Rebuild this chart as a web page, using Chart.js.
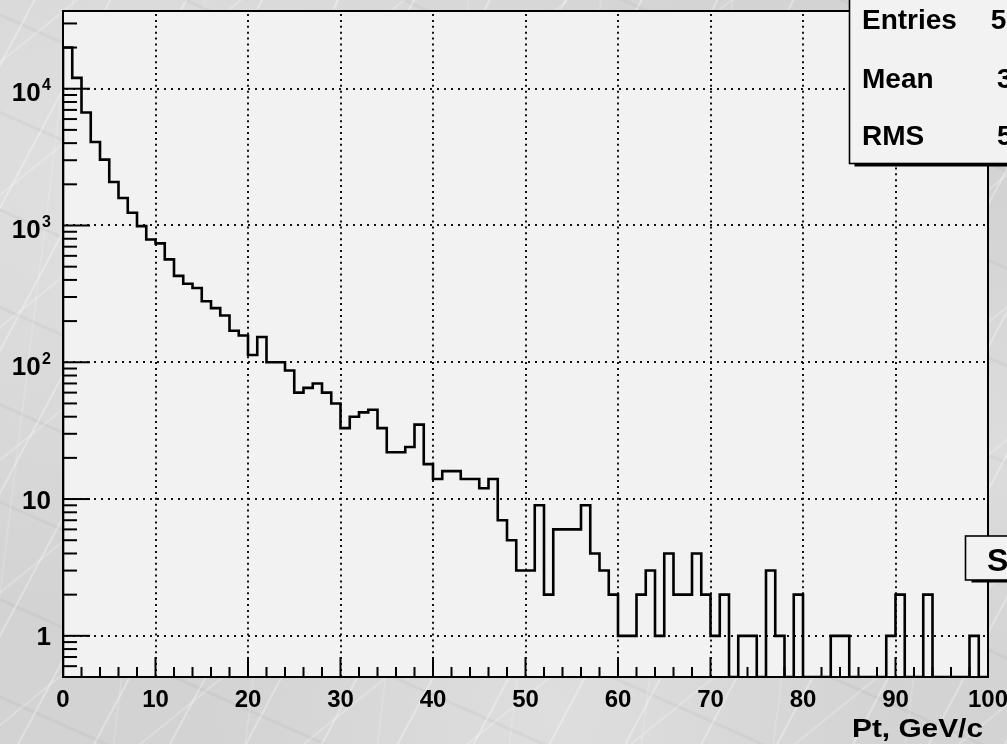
<!DOCTYPE html>
<html>
<head>
<meta charset="utf-8">
<script src="https://cdn.jsdelivr.net/npm/chart.js@4/dist/chart.umd.min.js"></script>
<style>
  html, body { margin: 0; padding: 0; }
  body {
    width: 1007px; height: 744px; overflow: hidden;
    background-color: #d3d3d3;
    background-image:
      repeating-linear-gradient(118deg, rgba(255,255,255,0) 0px, rgba(255,255,255,0) 29px, rgba(255,255,255,0.30) 30px, rgba(255,255,255,0.30) 31px, rgba(255,255,255,0) 32px, rgba(255,255,255,0) 67px),
      repeating-linear-gradient(141deg, rgba(255,255,255,0) 0px, rgba(255,255,255,0) 47px, rgba(255,255,255,0.22) 48px, rgba(255,255,255,0.22) 49px, rgba(255,255,255,0) 50px, rgba(255,255,255,0) 103px),
      repeating-linear-gradient(97deg, rgba(255,255,255,0) 0px, rgba(255,255,255,0) 71px, rgba(255,255,255,0.18) 72px, rgba(255,255,255,0) 74px, rgba(255,255,255,0) 131px),
      repeating-linear-gradient(24deg, rgba(110,110,110,0) 0px, rgba(110,110,110,0) 41px, rgba(110,110,110,0.07) 42px, rgba(110,110,110,0.07) 44px, rgba(110,110,110,0) 45px, rgba(110,110,110,0) 89px),
      radial-gradient(ellipse at 15% 25%, rgba(255,255,255,0.30), rgba(255,255,255,0) 55%),
      radial-gradient(ellipse at 55% 95%, rgba(255,255,255,0.25), rgba(255,255,255,0) 45%),
      radial-gradient(ellipse at 95% 60%, rgba(255,255,255,0.22), rgba(255,255,255,0) 40%);
  }
  canvas { display: block; }
</style>
</head>
<body>
<canvas id="c" width="1007" height="744"></canvas>
<script>
// Pt spectrum, 1 GeV/c bins from 0 to 100
const xMin = 0;
const xMax = 100;
const binWidth = 1;
const counts = [
  20000, 12000, 6700, 4080, 3030, 2080, 1590, 1240, 990, 790,
  740, 565, 428, 375, 349, 279, 249, 220, 170, 157,
  113, 153, 100, 100, 87, 60, 65, 70, 60, 50,
  33, 40, 43, 45, 33, 22, 22, 24, 35, 18,
  14, 16, 16, 14, 14, 12, 14, 7, 5, 3,
  3, 9, 2, 6, 6, 6, 9, 4, 3, 2,
  1, 1, 2, 3, 1, 4, 2, 2, 4, 2,
  1, 2, 0, 1, 1, 0, 3, 1, 0, 2,
  0, 0, 0, 1, 1, 0, 0, 0, 0, 1,
  2, 0, 0, 2, 0, 0, 0, 0, 1, 0
];

// axis ranges and labels
const yMin = 0.5;
const yMax = 37000;
const xTickValues = [0, 10, 20, 30, 40, 50, 60, 70, 80, 90, 100];
const xTickLabels = ['0', '10', '20', '30', '40', '50', '60', '70', '80', '90', '100'];
const yTickValues = [1, 10, 100, 1000, 10000];
const yTickBases = ['1', '10', '10', '10', '10'];
const yTickExponents = ['', '', '2', '3', '4'];
const xTitle = 'Pt, GeV/c';
const statNames = ['Entries', 'Mean', 'RMS'];
const sideBoxText = 'S';

// statistics of the filled bins
const entries = counts.reduce((s, c) => s + c, 0);
const meanPt = counts.reduce((s, c, i) => s + c * (xMin + (i + 0.5) * binWidth), 0) / entries;
const rmsPt = Math.sqrt(counts.reduce((s, c, i) => {
  const d = xMin + (i + 0.5) * binWidth - meanPt;
  return s + c * d * d;
}, 0) / entries);
const statValues = [String(entries), meanPt.toPrecision(4), rmsPt.toPrecision(4)];

// histogram outline: empty bins drop to the bottom of the frame
const points = [{ x: xMin, y: yMin }];
counts.forEach((c, i) => points.push({ x: xMin + i * binWidth, y: c > 0 ? c : yMin }));
points.push({ x: xMax, y: counts[counts.length - 1] > 0 ? counts[counts.length - 1] : yMin });
points.push({ x: xMax, y: yMin });

const FONT = '"Liberation Sans", Arial, Helvetica, sans-serif';

function seg(ctx, x1, y1, x2, y2) {
  ctx.beginPath(); ctx.moveTo(x1, y1); ctx.lineTo(x2, y2); ctx.stroke();
}

function stretchedText(ctx, text, x, y, size, align, width) {
  ctx.save();
  ctx.font = 'bold ' + size + 'px ' + FONT;
  const w = ctx.measureText(text).width;
  const sx = width ? width / w : 1;
  ctx.translate(x, y);
  ctx.scale(sx, 1);
  ctx.textAlign = align;
  ctx.textBaseline = 'alphabetic';
  ctx.fillText(text, 0, 0);
  ctx.restore();
}

function paveBox(ctx, x1, y1, x2, y2, shadowDx, shadowDy) {
  ctx.save();
  ctx.fillStyle = '#000';
  ctx.fillRect(x1 + shadowDx, y2, x2 - x1, shadowDy);
  ctx.fillRect(x2, y1 + shadowDy, shadowDx, y2 - y1);
  ctx.fillStyle = '#f2f2f2';
  ctx.fillRect(x1, y1, x2 - x1, y2 - y1);
  ctx.strokeStyle = '#000';
  ctx.lineWidth = 1.6;
  ctx.strokeRect(x1, y1, x2 - x1, y2 - y1);
  ctx.restore();
}

const rootPad = {
  id: 'rootPad',
  beforeDatasetsDraw(chart) {
    const { ctx, chartArea: a, scales: { x, y } } = chart;
    ctx.save();
    ctx.fillStyle = '#f2f2f2';
    ctx.fillRect(a.left, a.top, a.right - a.left, a.bottom - a.top);
    // dotted grid at the labelled ticks
    ctx.strokeStyle = '#111';
    ctx.lineWidth = 2;
    ctx.lineCap = 'butt';
    ctx.setLineDash([2, 3.9]);
    xTickValues.forEach(v => {
      if (v <= xMin || v >= xMax) return;
      const px = Math.round(x.getPixelForValue(v));
      seg(ctx, px, a.top + 3, px, a.bottom);
    });
    ctx.setLineDash([2, 5]);
    yTickValues.forEach(v => {
      const py = Math.round(y.getPixelForValue(v));
      seg(ctx, a.left + 3, py, a.right, py);
    });
    ctx.restore();
  },
  afterDatasetsDraw(chart) {
    const { ctx, chartArea: a, scales: { x, y } } = chart;
    ctx.save();
    ctx.strokeStyle = '#000';
    ctx.fillStyle = '#000';
    ctx.lineWidth = 2;
    ctx.lineCap = 'butt';

    // x ticks, inside the frame
    for (let v = xMin; v <= xMax; v += 2) {
      const px = x.getPixelForValue(v);
      const len = v % 10 === 0 ? 20 : 10;
      seg(ctx, px, a.bottom, px, a.bottom - len);
    }
    // y ticks, log decades with 2..9 subdivisions
    for (let k = -1; k <= 4; k++) {
      for (let m = 1; m <= 9; m++) {
        const v = m * Math.pow(10, k);
        if (v < yMin || v > yMax) continue;
        const py = y.getPixelForValue(v);
        const len = m === 1 ? 27 : 14;
        seg(ctx, a.left, py, a.left + len, py);
      }
    }

    // frame
    ctx.lineWidth = 2;
    ctx.strokeRect(a.left, a.top, a.right - a.left, a.bottom - a.top);

    // x labels
    ctx.font = 'bold 24px ' + FONT;
    ctx.textAlign = 'center';
    ctx.textBaseline = 'alphabetic';
    xTickValues.forEach((v, i) => {
      ctx.fillText(xTickLabels[i], x.getPixelForValue(v), a.bottom + 30);
    });

    // y labels
    const labelRight = a.left - 12;
    yTickValues.forEach((v, i) => {
      const py = y.getPixelForValue(v);
      ctx.textAlign = 'right';
      if (yTickExponents[i]) {
        ctx.font = 'bold 16px ' + FONT;
        ctx.fillText(yTickExponents[i], labelRight, py + 1.5);
        const ew = ctx.measureText(yTickExponents[i]).width;
        ctx.font = 'bold 26px ' + FONT;
        ctx.fillText(yTickBases[i], labelRight - ew - 1.5, py + 12.7);
      } else {
        ctx.font = 'bold 26px ' + FONT;
        ctx.fillText(yTickBases[i], labelRight, py + 9.5);
      }
    });

    // axis title, right aligned to the end of the axis
    stretchedText(ctx, xTitle, a.right - 5, a.bottom + 59.5, 26, 'right', 131);

    // statistics box
    paveBox(ctx, 849.5, -20, 1120, 163.5, 5, 3);
    ctx.fillStyle = '#000';
    ctx.font = 'bold 28px ' + FONT;
    const rowBase = [29, 88, 145];
    statNames.forEach((n, i) => {
      ctx.textAlign = 'left';
      ctx.fillText(n, 862, rowBase[i]);
      ctx.textAlign = 'right';
      ctx.fillText(statValues[i], 1067, rowBase[i]);
    });

    // side label box
    paveBox(ctx, 965.5, 536, 1120, 580, 6, 2.5);
    ctx.fillStyle = '#000';
    ctx.font = 'bold 32px ' + FONT;
    ctx.textAlign = 'left';
    ctx.fillText(sideBoxText, 987, 570.5);
    ctx.restore();
  }
};

new Chart(document.getElementById('c'), {
  type: 'line',
  data: {
    datasets: [{
      data: points,
      stepped: true,
      borderColor: '#000',
      borderWidth: 2.6,
      pointRadius: 0,
      fill: false,
      tension: 0
    }]
  },
  options: {
    responsive: false,
    animation: false,
    devicePixelRatio: 1,
    layout: { padding: { left: 63, right: 19, top: 11, bottom: 67 } },
    plugins: { legend: { display: false }, tooltip: { enabled: false } },
    scales: {
      x: { type: 'linear', min: xMin, max: xMax, display: false },
      y: { type: 'logarithmic', min: yMin, max: yMax, display: false }
    }
  },
  plugins: [rootPad]
});
</script>
</body>
</html>
